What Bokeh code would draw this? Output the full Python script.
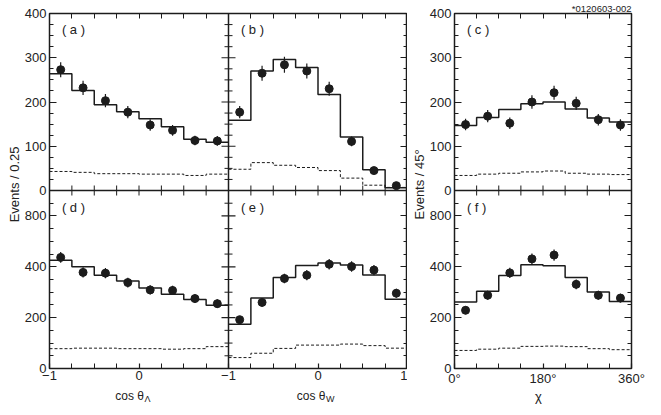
import numpy as np
from bokeh.plotting import figure
from bokeh.layouts import row, column
from bokeh.models import Range1d, LinearAxis, FixedTicker, Label, Span, Title
from bokeh.embed import file_html
from bokeh.resources import INLINE

# ------------------------------------------------------------------ data
cos_edges = [-1.0, -0.75, -0.5, -0.25, 0.0, 0.25, 0.5, 0.75, 1.0]
chi_edges = [0, 45, 90, 135, 180, 225, 270, 315, 360]

# (a) cos theta_Lambda (upper row)
a_data = [273, 232, 203, 177, 148, 136, 113, 112]
a_err = [17, 16, 15, 14, 13, 12, 11, 11]
a_fit = [264, 226, 194, 178, 162, 144, 116, 109]
a_bkg = [43, 41, 38, 38, 37, 37, 34, 37]
# (b) cos theta_W (upper row)
b_data = [177, 265, 284, 270, 230, 111, 45, 11]
b_err = [14, 17, 18, 17, 16, 11, 7, 4]
b_fit = [159, 270, 296, 278, 217, 121, 47, 6]
b_bkg = [48, 63, 57, 52, 45, 28, 12, 7]
# (c) chi (upper row)
c_data = [149, 168, 152, 200, 221, 197, 160, 148]
c_err = [13, 14, 13, 15, 16, 15, 13, 13]
c_fit = [147, 165, 183, 196, 200, 184, 164, 155]
c_bkg = [34, 37, 39, 42, 44, 39, 37, 36]
# (d) cos theta_Lambda (lower row)
d_data = [437, 378, 375, 338, 309, 307, 275, 255]
d_err = [21, 20, 20, 19, 18, 18, 17, 17]
d_fit = [426, 400, 367, 344, 317, 292, 271, 249]
d_bkg = [78, 80, 80, 78, 78, 76, 78, 86]
# (e) cos theta_W (lower row)
e_data = [192, 260, 354, 367, 410, 401, 387, 296]
e_err = [14, 17, 19, 20, 21, 21, 20, 18]
e_fit = [174, 277, 358, 405, 415, 407, 368, 272]
e_bkg = [43, 60, 79, 92, 92, 96, 90, 80]
# (f) chi (lower row)
f_data = [229, 288, 376, 431, 446, 331, 288, 277]
f_err = [16, 18, 20, 21, 22, 19, 18, 17]
f_fit = [262, 304, 366, 408, 404, 358, 301, 263]
f_bkg = [71, 76, 80, 87, 88, 86, 78, 74]

top_yticks = [0, 100, 200, 300, 400]
top_ylabels = ["0", "100", "200", "300", "400"]
top_yminor = [25, 50, 75, 125, 150, 175, 225, 250, 275, 325, 350, 375]
bot_yticks = [0, 200, 400, 600]
bot_ylabels = ["0", "200", "400", "800"]
bot_yminor = [50, 100, 150, 250, 300, 350, 450, 500, 550, 650]
cos_xticks = [-1, 0, 1]
cos_xlabels = ["\u22121", "0", "1"]
cos_xminor = [-0.75, -0.5, -0.25, 0.25, 0.5, 0.75]
chi_xticks = [0, 180, 360]
chi_xlabels = ["0\u00b0", "180\u00b0", "360\u00b0"]
chi_xminor = [45, 90, 135, 225, 270, 315]

TOP_MAX = 400
BOT_MAX = 700

# ------------------------------------------------------------------ style
FONT = "Liberation Sans"
INK = "#1c1c1c"
LBL = "#222222"

HT, HB = 177, 178             # frame heights of upper / lower panels
FH = HT + HB
FW_COS = 179                  # one cos panel
FW_LEFT = 2 * FW_COS          # two cos panels side by side
FW_CHI = 177
TOP_B, BOT_B = 11, 17

# default y range = lower-panel units, extra "top" range = upper-panel units
Y_END = BOT_MAX * FH / HB
Y_TOP_START = TOP_MAX - TOP_MAX * FH / HT


def top_to_def(v):
    return BOT_MAX + np.asarray(v, float) * (HT / TOP_MAX) * (BOT_MAX / HB)


YMAJ = list(map(float, bot_yticks)) + list(top_to_def(top_yticks))
YLAB = bot_ylabels + top_ylabels
YMIN = list(map(float, bot_yminor)) + list(top_to_def(top_yminor))
SY = Y_END / FH               # data units per pixel (default y)


def new_fig(fw, xr, l, r):
    p = figure(frame_width=fw, frame_height=FH, x_range=xr,
               y_range=Range1d(0, Y_END), x_axis_type=None, y_axis_type=None,
               toolbar_location=None, output_backend="svg", title=None,
               min_border_left=l, min_border_right=r,
               min_border_top=TOP_B, min_border_bottom=BOT_B)
    p.extra_y_ranges = {"top": Range1d(Y_TOP_START, TOP_MAX)}
    p.outline_line_color = INK
    p.outline_line_width = 1.5
    p.background_fill_color = "white"
    p.border_fill_color = "white"
    return p


def style_ticks(ax, maj_in, min_in):
    ax.axis_line_color = None
    ax.major_tick_in = maj_in
    ax.major_tick_out = 0
    ax.minor_tick_in = min_in
    ax.minor_tick_out = 0
    ax.major_tick_line_color = INK
    ax.minor_tick_line_color = INK
    ax.major_tick_line_width = 1.2
    ax.minor_tick_line_width = 1


def labelled_axis(p, side, ticks, minor, labels, maj_in, min_in, standoff):
    ax = LinearAxis(ticker=FixedTicker(ticks=list(ticks), minor_ticks=list(minor)))
    style_ticks(ax, maj_in, min_in)
    ax.major_label_overrides = {t: s for t, s in zip(ticks, labels)}
    ax.major_label_text_font = FONT
    ax.major_label_text_font_size = "13px"
    ax.major_label_text_color = LBL
    ax.major_label_standoff = standoff
    p.add_layout(ax, side)


def tick_only_axis(p, side, positions, length):
    ax = LinearAxis(ticker=FixedTicker(ticks=[], minor_ticks=list(positions)))
    style_ticks(ax, length, length)
    ax.major_label_standoff = 0
    p.add_layout(ax, side)


def draw(p, edges, data, err, fit, bkg, xr="default", yr="default"):
    e = np.asarray(edges, float)
    c = (e[:-1] + e[1:]) / 2
    d = np.asarray(data, float)
    er = np.asarray(err, float)
    kw = dict(x_range_name=xr, y_range_name=yr)
    p.step(e, np.append(bkg, bkg[-1]), mode="after", line_color=INK,
           line_width=1, line_dash="3 2", **kw)
    p.step(e, np.append(fit, fit[-1]), mode="after", line_color=INK,
           line_width=1.5, **kw)
    p.segment(c, d - er, c, d + er, line_color=INK, line_width=1.2, **kw)
    p.scatter(c, d, size=8, fill_color=INK, line_color=INK, **kw)


def tag(p, x, y, text):
    p.add_layout(Label(x=x, y=y, text=text, text_font=FONT, text_font_size="13px",
                       text_color=LBL, text_align="left", text_baseline="middle"))


def common_frame(p, xmaj, xall, sx, xlabels):
    """axes on all four sides plus the shared horizontal panel edge."""
    labelled_axis(p, "left", YMAJ, YMIN, YLAB, 7, 4, 3)
    tick_only_axis(p, "right", YMAJ, 7)
    tick_only_axis(p, "right", YMIN, 4)
    labelled_axis(p, "below", xmaj, [v for v in xall if v not in xmaj], xlabels, 5, 5, 2)
    tick_only_axis(p, "above", xall, 5)
    # edge between upper and lower panels, ticks pointing into both
    p.add_layout(Span(location=BOT_MAX, dimension="width", line_color=INK, line_width=1.5))
    xs = np.asarray(xall, float)
    p.segment(xs, BOT_MAX - 5 * SY, xs, BOT_MAX + 5 * SY, line_color=INK, line_width=1)


# ---------------------------------------------------------- left block (a,b,d,e)
LEFT = new_fig(FW_LEFT, Range1d(-1, 3), 25, 0)
LEFT.extra_x_ranges = {"right": Range1d(-3, 1)}
draw(LEFT, cos_edges, a_data, a_err, a_fit, a_bkg, yr="top")
draw(LEFT, cos_edges, b_data, b_err, b_fit, b_bkg, xr="right", yr="top")
draw(LEFT, cos_edges, d_data, d_err, d_fit, d_bkg)
draw(LEFT, cos_edges, e_data, e_err, e_fit, e_bkg, xr="right")

cos_maj = cos_xticks + [v + 2 for v in cos_xticks[1:]]
cos_lab = cos_xlabels[:2] + cos_xlabels
cos_all = sorted(cos_maj + cos_xminor + [v + 2 for v in cos_xminor])
SX_L = 4.0 / FW_LEFT
common_frame(LEFT, cos_maj, [v for v in cos_all if -1 < v < 3], SX_L, cos_lab)
# vertical edge between the two cos panels, ticks pointing into both
LEFT.add_layout(Span(location=1, dimension="height", line_color=INK, line_width=1.5))
ymj = np.asarray(YMAJ)
ymn = np.asarray(YMIN)
LEFT.segment(1 - 7 * SX_L, ymj, 1 + 7 * SX_L, ymj, line_color=INK, line_width=1.2)
LEFT.segment(1 - 4 * SX_L, ymn, 1 + 4 * SX_L, ymn, line_color=INK, line_width=1)

TAG_DX, TAG_DY = 12.4, 16.3
tag(LEFT, -1 + TAG_DX * SX_L, Y_END - TAG_DY * SY, "( a )")
tag(LEFT, 1 + TAG_DX * SX_L, Y_END - TAG_DY * SY, "( b )")
tag(LEFT, -1 + TAG_DX * SX_L, BOT_MAX - 17 * SY, "( d )")
tag(LEFT, 1 + TAG_DX * SX_L, BOT_MAX - 17 * SY, "( e )")

# ---------------------------------------------------------- right block (c,f)
RIGHT = new_fig(FW_CHI, Range1d(0, 360), 26, 19)
draw(RIGHT, chi_edges, c_data, c_err, c_fit, c_bkg, yr="top")
draw(RIGHT, chi_edges, f_data, f_err, f_fit, f_bkg)
chi_all = sorted(chi_xticks + chi_xminor)
SX_R = 360.0 / FW_CHI
common_frame(RIGHT, chi_xticks, [v for v in chi_all if 0 < v < 360], SX_R, chi_xlabels)
tag(RIGHT, TAG_DX * SX_R, Y_END - TAG_DY * SY, "( c )")
tag(RIGHT, TAG_DX * SX_R, BOT_MAX - 17 * SY, "( f )")
RIGHT.add_layout(Title(text="*0120603-002", align="right", text_font=FONT,
                       text_font_size="9.5px", text_font_style="normal",
                       text_color=LBL, standoff=0, offset=0), "above")


# ---------------------------------------------------------- title strips
def strip(w, h):
    p = figure(width=w, height=h, x_range=Range1d(0, w), y_range=Range1d(0, h),
               x_axis_type=None, y_axis_type=None, toolbar_location=None,
               output_backend="svg", title=None, min_border=0)
    p.outline_line_color = None
    return p


def txt(p, x, y, text, size="13px", align="center", angle=0.0):
    p.add_layout(Label(x=x, y=y, text=text, angle=angle, text_font=FONT,
                       text_font_size=size, text_color=LBL, text_align=align,
                       text_baseline="middle"))


H_MID = TOP_B + FH + BOT_B
L = strip(21, H_MID)
txt(L, 14, H_MID - 187, "Events / 0.25", angle=np.pi / 2)
M = strip(19, H_MID)
txt(M, 12, H_MID - 187, "Events / 45\u00b0", angle=np.pi / 2)

B = strip(645, 16)
txt(B, 143.5, 9, "cos \u03b8", size="12px", align="right")
txt(B, 144.0, 5.5, "\u039b", size="9px", align="left")
txt(B, 325.0, 9, "cos \u03b8", size="12px", align="right")
txt(B, 325.5, 5.5, "W", size="9px", align="left")
txt(B, 538.0, 8, "\u03c7", size="13px")

layout = column(row(L, LEFT, M, RIGHT), B)

with open("out.html", "w") as fh:
    fh.write(file_html(layout, INLINE))
